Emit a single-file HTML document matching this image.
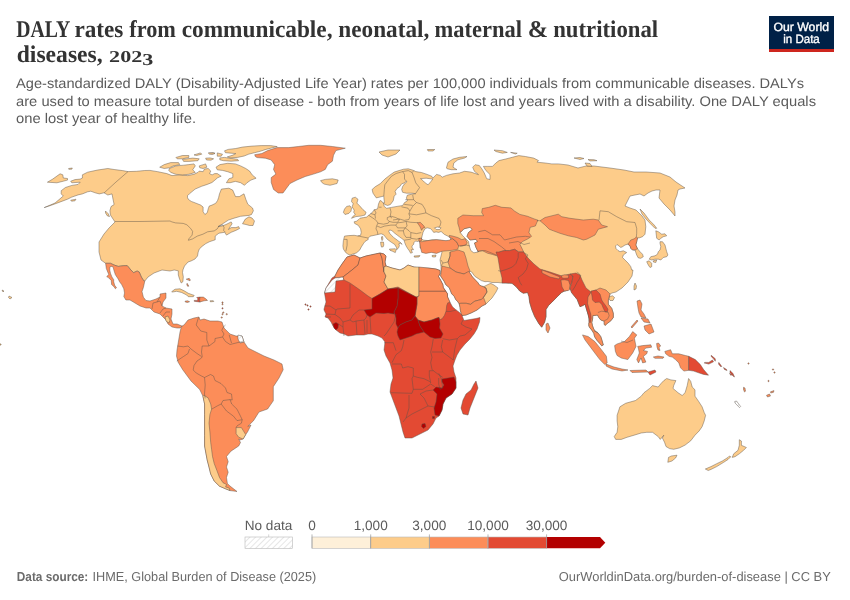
<!DOCTYPE html>
<html><head><meta charset="utf-8"><title>DALY rates map</title>
<style>
html,body{margin:0;padding:0;background:#fff;}
body{width:850px;height:600px;overflow:hidden;position:relative;}
svg{display:block;}
text{text-rendering:geometricPrecision;}
</style></head>
<body>
<svg width="850" height="600" viewBox="0 0 850 600" style="will-change:transform">
<defs>
<pattern id="hatch" patternUnits="userSpaceOnUse" width="4" height="4" patternTransform="rotate(45)">
<rect width="4" height="4" fill="#fff"/>
<line x1="0" y1="0" x2="0" y2="4" stroke="#d5d5d5" stroke-width="1.2"/>
</pattern>
</defs>
<rect width="850" height="600" fill="#fff"/>
<g font-family="'Liberation Serif', serif" font-weight="bold" fill="#333" font-size="24" lengthAdjust="spacingAndGlyphs">
<text x="16.2" y="36.8" textLength="54.1" lengthAdjust="spacingAndGlyphs">DALY</text>
<text x="74.4" y="36.8" textLength="49.0" lengthAdjust="spacingAndGlyphs">rates</text>
<text x="129.3" y="36.8" textLength="46.6" lengthAdjust="spacingAndGlyphs">from</text>
<text x="181.7" y="36.8" textLength="150.8" lengthAdjust="spacingAndGlyphs">communicable,</text>
<text x="338.3" y="36.8" textLength="91.1" lengthAdjust="spacingAndGlyphs">neonatal,</text>
<text x="434.6" y="36.8" textLength="87.5" lengthAdjust="spacingAndGlyphs">maternal</text>
<text x="527.7" y="36.8" textLength="20.4" lengthAdjust="spacingAndGlyphs">&amp;</text>
<text x="553.2" y="36.8" textLength="105.0" lengthAdjust="spacingAndGlyphs">nutritional</text>
<text x="16.7" y="61.9" textLength="86" lengthAdjust="spacingAndGlyphs">diseases,</text>
<text x="109.1" y="62" font-size="16.6" textLength="44.2" lengthAdjust="spacingAndGlyphs">202<tspan dy="3.2">3</tspan></text>
</g>
<g font-family="'Liberation Sans', sans-serif" font-size="14" fill="#5b5b5b">
<text x="16" y="88" textLength="788" lengthAdjust="spacingAndGlyphs">Age-standardized DALY (Disability-Adjusted Life Year) rates per 100,000 individuals from communicable diseases. DALYs</text>
<text x="16" y="105.8" textLength="800" lengthAdjust="spacingAndGlyphs">are used to measure total burden of disease - both from years of life lost and years lived with a disability. One DALY equals</text>
<text x="16" y="123.4" textLength="180" lengthAdjust="spacingAndGlyphs">one lost year of healthy life.</text>
</g>
<g>
<rect x="769" y="16" width="65" height="36" fill="#002147"/>
<rect x="769" y="49" width="65" height="3" fill="#ce261e"/>
<text x="773.5" y="30.8" textLength="55.5" lengthAdjust="spacingAndGlyphs" font-family="'Liberation Sans', sans-serif" font-size="12" fill="#fff" stroke="#fff" stroke-width="0.35">Our World</text>
<text x="783.2" y="42.5" textLength="36.6" lengthAdjust="spacingAndGlyphs" font-family="'Liberation Sans', sans-serif" font-size="12" fill="#fff" stroke="#fff" stroke-width="0.35">in Data</text>
</g>
<g stroke="#5a5048" stroke-width="0.45" stroke-linejoin="round">
<polygon points="44.2,207.6 55,203 63.3,196 61.2,193.9 61.2,190.7 65.4,187.5 71.8,185.4 78.1,184.4 80.2,182.2 71.8,182.8 70.7,181.2 75,179.6 80.2,179.1 82.4,178 82.4,174.8 87.6,172.2 97.2,170.1 107.8,168.5 114.1,169.5 122.6,170.6 128,171.6 136.5,171.3 144.7,170.5 150,170.4 157.8,171.7 166.8,173.6 172,175.6 179.8,174.9 187.5,175.6 194,174.3 197.9,172.4 199.2,171.1 203.1,171.7 204.4,169.1 208.2,168.5 210.8,171.1 209.5,173.6 212.1,174.9 214.7,173.6 217.3,173.6 221.2,176.2 217.6,177.8 214.8,180.2 212,182.5 207.3,184.4 201.6,186.3 195.1,189.1 189.4,193.8 187.5,195.7 187.5,197.6 188.5,199.5 191.3,201.4 196,203.2 200.7,205.1 203.1,207 203.1,211.7 204.9,214.5 207.3,212.6 208.2,208.9 209.2,206.1 212,205.1 215.8,203.2 217.6,200.4 218.6,197.6 219.5,193.8 221.4,189.1 228.9,188.2 232.7,190.1 235.5,196.6 239.3,196.6 244,193.8 245.9,199.5 247.8,204.2 252.5,208 253.4,210.8 251.5,214.5 249,215.4 240.6,216.3 234,218.2 228.4,220.1 222.7,223.8 218,226.6 222,226 226,224.5 231.2,221.9 232.1,223.8 230.2,226.6 228.4,229.5 231.2,227.6 235.9,227.6 238.7,226.6 239.6,228.5 235.9,230.4 231.2,232.3 226.5,235.1 224.6,232.3 218.9,233.2 215.2,236.1 215.2,239.8 209.5,241.7 205.8,243.6 202,246.4 199.2,249.2 198.2,252.1 197.5,256 195,259 191,261 188,262 184.5,266 182.9,270 182.5,272.5 183.3,276.7 182.9,281.7 181.2,283 179.6,279.2 178.3,275 178.3,270.8 174.2,270 170,271 162,270 154,273 148,277 144.8,281.1 143.4,280.4 141.3,276.9 139.2,272 137.1,271 133.6,272.7 130.8,269.9 127.3,265.7 123.8,265.7 118.2,266.4 114,265 110.5,263.3 105.6,263.3 101,260 99,252 99,242 104,234 109,228 113,224 115,222 110.4,215 109.9,210.8 111,206.6 114.1,204.5 113,199.2 112,193.9 107.8,195 104,192.8 99.3,193.9 95.1,192.8 90.8,191.2 87.6,191.8 82.4,193.9 78.1,194.9 71.8,197.1 67.5,199.2 59,202.4 50.6,205.5" fill="#fdcc8a"/>
<polygon points="47.4,182.2 52.7,179.1 60.1,173.8 62.8,174.8 63.3,178 67.5,178.5 67.5,180.1 63.3,181.2 56.9,182.8" fill="#fdcc8a"/>
<polygon points="68.6,168.5 72.3,168 71.8,169.2 68.8,169.3" fill="#fdcc8a"/>
<polygon points="70.7,200.2 76,199.2 75,200.8 71.5,201.2" fill="#fdcc8a"/>
<polygon points="105.5,211 108,213.5 109.5,216.5 107.5,216 105.5,213" fill="#fdcc8a"/>
<polygon points="216,167.2 219.9,164.6 227.6,163.3 235.4,163.9 240.6,165.9 245.8,168.5 249.6,171.1 252.2,174.9 256.1,178.2 250.9,180.1 247.1,182.7 244.5,185.3 240.6,182.7 235.4,181.4 230.2,182.7 226.4,182.7 228.9,178.8 232.8,177.5 232.8,173.6 227.6,171.7 222.5,170.4 217.3,169.8" fill="#fdcc8a"/>
<polygon points="169.4,168.5 175.9,165.9 183.6,165.2 188.8,164.6 194,163.9 195.3,165.9 192.7,169.8 195.3,172.4 188.8,174.3 182.4,174.9 175.9,174.3 170.7,172.4 168.8,170.4" fill="#fdcc8a"/>
<polygon points="159.7,167.2 164.2,164.6 170.7,162.6 178.5,162.6 179.8,164.6 173.3,165.9 169.4,167.8 164.2,168.5" fill="#fdcc8a"/>
<polygon points="199.2,165.9 205.6,163.9 206.9,167.2 203.1,168.5 199.8,167.8" fill="#fdcc8a"/>
<polygon points="219.8,157.9 224.5,157.4 231.1,158.4 237.6,159.3 238.6,160.7 231.1,161.2 223.5,160.7 219.8,159.8" fill="#fdcc8a"/>
<polygon points="205.6,158.2 210,157.9 213.6,158.8 211,160.2 206.5,160" fill="#fdcc8a"/>
<polygon points="209.4,153 213,152.7 215,153.6 211,154.1" fill="#fdcc8a"/>
<polygon points="224.5,150.8 228.2,149.4 235.8,148.5 242.4,147.1 251.8,146.1 261.2,145.6 270.6,145.6 277.2,146.6 271.5,148 265.9,149.4 260.2,151.3 254.6,152.7 248.9,154.1 244.2,156 237.6,157.4 230.1,157.9 227.3,156.9 232.9,155.1 235.8,153.6 231.1,153.2 225.4,152.7" fill="#fdcc8a"/>
<polygon points="175.9,157.5 182.4,155.5 188.8,155.5 188.8,157.5 182.4,158.8 177.2,158.8" fill="#fdcc8a"/>
<polygon points="182.4,159.4 192.7,158.1 199.2,158.8 197.9,160.7 188.8,161.4 183.6,161.4" fill="#fdcc8a"/>
<polygon points="194,154.9 200.5,152.9 201.8,154.2 196.6,155.5" fill="#fdcc8a"/>
<polygon points="208.2,152.9 214.7,152.9 213.4,154.2 209.5,154.2" fill="#fdcc8a"/>
<polygon points="217.3,152.9 222.5,154.2 221.2,156.2 217.3,156.2" fill="#fdcc8a"/>
<polygon points="242.5,223.8 245.3,219.1 249,216.8 252,218 254.5,221 253,225.5 249.5,225.5 246,224.5" fill="#fdcc8a"/>
<polygon points="254.7,154.7 261.8,153.5 267.6,150.6 277,147.6 288.8,147.6 298.2,146.5 308.8,145.3 320.6,145.3 332.4,146.5 345.3,148.2 335.9,150.6 333.5,155.3 332.4,161.2 327.6,164.7 325.3,169.4 320.6,171.8 313.5,174.1 305.3,176.5 297,180 290,183.5 286.5,188.2 283,193 278.2,193 273.5,189.4 271.2,182.4 271.2,177.6 275.9,174.1 273.5,169.4 274.7,164.7 271.2,160 265.3,158.2 257,157.6 255.3,156.5" fill="#fc8d59"/>
<polygon points="320.6,180.6 325.3,179.4 332.4,178.8 338.2,180 337,183.5 330,185.3 324.1,184.1 321.8,182.4" fill="#fdcc8a"/>
<polygon points="105.6,263.3 110.5,263.3 114,265 118.2,266.4 123.8,265.7 127.3,265.7 130.8,269.9 133.6,272.7 137.1,271 139.2,272 141.3,276.9 143.4,280.4 144.8,281.1 143.4,287.4 142,291.6 143.4,297.2 146,300.5 150,301 156,299 160,297 160,294 166,293 166,298 163,302 162,306 166,308 172,309 172,314 171,319 173,324 177,324 182,326 180,328 177,328 172,327 168,324 166,320 160,314 154,312 150,308 146,308 140,306 130,300 125.9,300 123.8,296.5 124.5,293 123.8,288.8 121.7,284.6 119.6,281.8 118.2,279 115.4,274.8 114,270.6 113,266.8 111.2,266.4 109.8,267.1 109.8,270.3 110.5,273.4 111.9,276.9 113.7,279.7 113.7,281.8 114.7,285.3 116.5,287.8 115.4,288.8 114,286.7 111.6,284.6 111.2,280.4 108.4,277.6 106.7,276.6 108.8,274.5 107.7,272 106.3,268.5" fill="#fc8d59"/>
<polygon points="165,317 168,316 170,320 169,323 166,321" fill="#fdcc8a"/>
<polygon points="171.7,291.7 175,289.2 180,288.8 184.2,290.8 188.3,293.3 194.2,295.4 193.3,296.7 188.3,296.7 186.7,295 181.7,292.5 176.7,291.3 172.5,292" fill="#fdcc8a"/>
<polygon points="196.7,297.5 200,297.1 199.6,300 200,302.1 197.5,301.7 194.2,301.3 194.2,300.4 197.5,300.4 197.9,298.8" fill="#e34a33"/>
<polygon points="200,297.1 203.3,297.1 205.8,298.8 207.5,300.4 204.2,300.8 200.8,301.7 200,302.1 199.6,300" fill="#fc8d59"/>
<polygon points="185,301.2 187.5,300.8 189.6,301.7 187.5,302.5 185.4,302.1" fill="#fc8d59"/>
<polygon points="210,300.8 213.3,300.7 213.8,301.5 210.4,301.8" fill="#fdcc8a"/>
<polygon points="186.2,279.2 189.2,278.3 190.4,280 190,280.8 187.1,279.6" fill="#fc8d59"/>
<polygon points="187.1,283.3 187.9,284.6 188.8,286.2 187.5,286.2 186.8,284.6" fill="#fc8d59"/>
<polygon points="182,326 184,325 188,320 194,318 199,317 200,320 204,319 210,321 218,321 222,322 224,328 230,334 236,336 242,336 244,342 248,348 256,352 264,356 274,360 282,364 283.2,369.7 279,378 273.3,386.7 273.3,400.8 267.6,409 259,412 253.5,420.7 247.8,426.3 251,425 247.5,432 245.7,434.6 243.1,439 240.5,439.9 238.7,439 240.5,442.5 238.7,446 230.9,451.2 226.5,456.5 228.2,461.7 226.5,467 228.2,472.2 226.5,477.5 227.4,483.6 230,486 237,491.5 230,490.6 225.6,488.8 219.5,486.2 214.2,481 210.7,474 209,467 207.2,460 204.6,446 204.6,435.5 204.6,425 204.6,414.5 204.6,404 202.9,396.1 199.7,389.5 191,381 182.7,369.7 178,362 176.5,356 177,350 178,344 179,338 180,332 181,328" fill="#fc8d59"/>
<polygon points="202.9,396.1 204.6,404 204.6,414.5 204.6,425 204.6,435.5 204.6,446 207.2,460 209,467 210.7,474 214.2,481 219.5,486.2 225.6,488.8 230,490.6 229.1,488 225.6,487 226.5,484.5 223,482.7 219.5,477.5 216.9,470.5 214.2,463.5 212.5,456.5 211.6,449.5 210.7,442.5 209.9,432 209,423.2 209.9,414.5 211.6,409.2 210.7,404 208.1,397.9 203.7,395.2" fill="#fdcc8a"/>
<polygon points="236.1,427.6 241.4,427.6 245.7,434.6 243.1,439 238.7,437.2 236.1,433.7" fill="#fdcc8a"/>
<polygon points="238,335 242,336 244,342 240,343 238,339" fill="url(#hatch)"/>
<polygon points="349.9,255.1 347.7,254 345.6,252.4 343.4,249.1 342.9,245.9 343.4,240.5 344.5,236.1 348.8,235.6 354.2,235.3 357.6,235.9 360.6,235.3 361.2,232.4 360.6,228.8 358.2,225.3 354.7,223.5 354.1,221.8 356.5,221.2 358.8,219.4 360,218.2 363.5,217.6 366.5,217.1 368.8,215.3 371.8,212.9 374.1,210 377.6,208.8 378.5,204 380,200.5 381.5,201 383,203 384.5,202.5 384,199 383.8,196.1 380,197 376.3,197.9 373,193.2 372.1,189.5 375.4,186.6 380.1,183.8 384.8,179.1 389.5,175.4 394.2,172.1 398.9,170.6 403.6,169.2 408.3,168.8 413,170.2 415.8,171.6 421.5,172.5 427.1,174.4 431.8,176.3 432.8,178.2 436.5,174.4 440.3,175.4 442.2,177.2 446.4,175.4 453,173.8 459.5,173 464.5,171.3 471,172.1 476,173.8 478.5,174.6 474.4,171.3 472.7,167.2 475.2,164.7 479.3,165.5 481.8,168.8 484.3,173 486.7,178.7 490,179.5 490,174.6 485.9,170.5 483.4,166.4 487.5,166.4 492.5,166.4 495.8,163 499,160.6 505.7,159 512.3,157.3 518.8,155.6 525.4,156.5 533.7,158.1 538.6,160.6 537,162.2 545.2,163 551.8,163.9 558.4,163.9 568,165 578,168 586,166 594,166 610,168 624,170 634,172 646,172 660,173 670,177 676,182 685,188 680,189 678,190 677,195 675,200 674,206 675,212 675,216 670,210 664,204 659,198 660,190 656,190 652,191 648,193 644,196 640,194 630,196 625,206 630,208 636,210 642,216 645,220 645.8,226.7 645,234.2 642.5,236.7 639.2,237.9 637.5,237.9 636.7,241.7 635.8,245 637.5,248.8 640,251.7 642.5,254.2 643.3,256.7 640.8,258.3 638.3,257.9 636.7,255 635.8,252.5 635,250 632.5,250 630.8,248.3 630,245.8 627.9,244.2 625,245 622.5,246.7 620.8,247.5 619,246 617,244.5 615.5,246 616,248.5 618,250.5 620,251.7 623.3,250.8 626.7,252.5 623.3,255 622.5,257.5 625,260 628.3,263.3 630.8,266.7 631.7,270 633,270 632,276 628,282 622,288 616,292 612,293 610,294 608.3,300 608.3,304.2 611.7,308.3 613.3,313.3 613.3,317.5 610.8,320.8 607.5,323.3 605,325.4 604.2,324.2 604.2,321.2 600.8,320 598.8,317.5 597.5,315 595,315.4 592.8,315.5 592.6,319 591.8,322.5 592.5,325.8 593.8,329.2 595.8,331.7 598.3,333.3 600.8,336.7 602.1,340.8 603.3,345 601.7,345.8 599.6,343.3 596.7,340 594.6,336.7 593.8,333.3 591.7,330 589.6,327.5 588.8,325.8 588.8,323.3 589.6,322.5 589.2,319.2 588.3,315 586.7,310 585,304.2 583,305.5 580,306.7 577.2,299.6 571.5,292.5 570,288 568,290 564.4,291.1 561.6,292.5 557.3,296.7 551.7,302.4 548.5,305.5 546,309.5 546,316.6 544.6,322.2 541.7,327.2 538.9,323.7 534.7,316.6 531.8,309.5 529.7,302.4 529,296.7 527.6,292.5 523.3,293.2 519.8,291.1 516.2,286.8 512,283.3 506,283 502,283 498,282.5 492,282.5 488,281.5 485,281.7 481.3,280.6 478,278.4 474.8,276.3 471.6,271.9 468.3,270.8 469.5,272.5 472.5,277 475.9,280.6 478,282.8 479.2,284.9 481.3,286 484,286.5 487,285 489.5,283.8 491,283.5 494,285 498,288 496,292 492,298 486,304 482,306 477,310 471,313 466,315 462,315.5 461.2,313.4 460.4,310.5 460,307.2 459.2,303.8 457.5,301.3 455.8,299.7 454.2,296.3 451.7,293.8 450.4,290.5 449.2,287.6 445.8,284.7 444.2,281.3 441.7,277.6 440.6,275.9 441,273 441,270 441,266 440,260 442,252 440,249 430,250 420,248 420,243.9 419.5,240.2 418,241.5 415.5,241 414,242.6 413.5,244.5 412.4,245.5 411.8,247 413.5,249.7 411.2,249.7 412.4,252.6 410.6,253.2 409.4,250.9 407.6,248.5 405.9,245.6 404.7,242.6 404.1,240.3 401.8,238.5 399.4,236.8 397.1,235 394.7,233.2 392.9,231.5 391.2,230.3 389.4,230 388.8,231.5 390,233.8 391.8,235.6 393.5,237.4 395.9,239.1 398.2,240.9 400.6,242.6 402.1,244.4 400.6,243.2 398.8,243.8 399.4,245.6 398.8,247.4 396.8,249.7 396.6,247.8 394.7,244.4 391.8,242.6 389.4,240.9 387.1,239.1 385.3,236.8 383.5,234.7 381.2,233.8 378.2,234.4 375.9,235 370,236.2 368.2,238.2 368.3,239.4 365,241.5 363.4,243.7 361.3,247 359.6,250.2 356.4,252.9 352.1,254.3" fill="#fdcc8a"/>
<polygon points="406.4,181 404.5,182.9 401.7,183.8 399.8,186.6 397,188.5 395.1,191.4 396.1,194.2 394.2,196.1 393.2,200.8 390.4,204.5 387.6,205.5 384.8,204.5 383.5,203 384.2,206.4 386.6,208.3 391.4,207.4 397,206.4 402.6,205.5 404.5,202.6 407.4,200.8 406.4,197.9 407.4,195.1 412.1,194.2 415.8,193.7 412.1,193.2 406.4,193.2 402.6,192.3 401.7,189.5 402.6,186.6 404.5,183.8 406.9,181.9" fill="#fff" stroke="#5a5048" stroke-width="0.45"/>
<polygon points="420.5,178.6 426.2,178.2 432.8,179.1 430.9,181.5 428.1,184.8 425.2,182.9 423.4,181" fill="#fff" stroke="#5a5048" stroke-width="0.45"/>
<polygon points="421.4,238.9 422.2,235.7 423,232.4 424.7,229.1 427.1,227.8 430.4,228.6 432.5,230.7 433.7,232.4 436.2,231.9 438.7,232.4 441.1,231.5 444.4,234.4 447.7,236.1 450.2,237.7 451,239.8 448.5,241 444.4,241 440.3,240.2 436.2,239.8 432.1,239.8 428,240.6 423.8,240.2" fill="#fff" stroke="#5a5048" stroke-width="0.45"/>
<polygon points="434.5,227.8 437.8,227 441.1,227.8 439.5,229.5 436.2,229.5" fill="#fff" stroke="#5a5048" stroke-width="0.45"/>
<polygon points="460.3,232.5 464,228.8 470,227.3 472.3,229.5 468.5,232.5 467,236.3 470,240 476,239.3 477.5,241.5 474.5,243 476,247.5 478.3,252 473.8,252.8 470.8,250.5 469.3,246 468.5,241.5 465.5,238.5 462.5,235.5" fill="#fff" stroke="#5a5048" stroke-width="0.45"/>
<polygon points="352.1,198.2 355.3,197.2 358,199.3 356.9,203.1 359.6,205.8 362.9,209.6 366.1,212.3 365,215 360.7,216.1 355.9,216.6 351.5,218.3 353.2,216.1 355.3,214.5 353.7,212.3 354.2,210.2 352.1,206.9 353.2,203.7 351.5,201.5" fill="#fdcc8a"/>
<polygon points="344.5,209.1 346.7,206.4 349.9,205.8 351.5,208 351,211.2 348.8,213.4 345,214.5 343.4,212.3" fill="#fdcc8a"/>
<polygon points="389.4,249.1 395.3,248.8 396.2,249.7 395.3,252.6 392.4,251.2 390,250.3" fill="#fdcc8a"/>
<polygon points="380.6,242.1 383.5,242.1 383.8,245 383.2,246.8 381.5,247.1 380.9,245" fill="#fdcc8a"/>
<polygon points="381.5,236.8 382.6,236.5 382.9,239.1 382.1,240.6 381.5,239.1" fill="#fdcc8a"/>
<polygon points="379,152 388,150 400,150 396,154 388,157 382,155" fill="#fdcc8a"/>
<polygon points="446.4,168 448,162.2 453,159 459.5,157.3 467,156.5 464.5,158.1 457.9,159.8 453.8,163 453,167.2 457,169.7 451.3,169.7 447.2,168.8" fill="#fdcc8a"/>
<polygon points="494,150 502.4,150.7 507.3,152.4 502.4,153.2 495.8,151.5" fill="#fdcc8a"/>
<polygon points="510.6,152.4 517.2,153.2 515.5,154" fill="#fdcc8a"/>
<polygon points="427.4,149.5 434.8,149.5 433,151 428,151" fill="#fdcc8a"/>
<polygon points="574,158 580,157.5 584,158.5 580,159.5" fill="#fdcc8a"/>
<polygon points="588,159.5 594,159.7 597,160.7 590,161" fill="#fdcc8a"/>
<polygon points="585,163 590,163.5 592,166.5 587,166" fill="#fdcc8a"/>
<polygon points="640,209 644,213 649.2,220 651.7,222.5 654.2,225 656.7,228.3 655,228.3 652.5,225.8 650,223.3 646,219 642,214" fill="#fdcc8a"/>
<polygon points="655.8,230.8 658.3,231.7 661.7,234.2 665,233.8 666.7,235.8 663.3,236.7 660.8,238.3 659.2,240 656.7,238.3 656.3,235" fill="#fdcc8a"/>
<polygon points="660,241.7 662.5,241.7 665,245 665.8,248.3 666.7,251.7 667.9,255 666.7,256.7 663.3,257.5 660.8,260 658.3,259.2 655,259.2 651.7,260 649.2,259.2 650.8,256.7 655,255.8 657.5,254.2 658.3,251.7 660,250 660.8,246.7 660,243.3" fill="#fdcc8a"/>
<polygon points="646.7,261.7 649.2,260.8 651.7,263.3 651.7,266.7 650,267.5 648.3,265" fill="#fdcc8a"/>
<polygon points="653.3,260.8 656.7,260 655.8,262.5 653.3,262" fill="#fdcc8a"/>
<polygon points="635,283 636.5,286 636,289 634,290 634,286" fill="#fdcc8a"/>
<polygon points="609.5,296.5 612.5,295.8 614.5,297.5 613,300.5 610,300.5 609,298.5" fill="#fdcc8a"/>
<polygon points="546,324 548,323 550,328 548,333 546,330" fill="#fc8d59"/>
<polygon points="417.4,222.8 420.2,222.3 423.1,225.1 425,227.5 423.1,227.9 421.6,230.3 420.2,227 418.4,224.2" fill="#fc8d59"/>
<polygon points="419.5,240.2 421.7,241.8 427,240.7 431.2,240.2 436.5,239.7 441.8,240.2 446,240.7 449.2,240.2 452.4,238.6 456.6,241.8 458.7,246 457.7,249.2 452.4,250.3 441.8,251.3 436.5,253.4 431.2,252.4 425.9,253.4 421.7,252.4 420.6,248.1 420,243.9" fill="#fc8d59"/>
<polygon points="418.8,238.5 421.5,238 421.7,240.5 419,241.5" fill="#fc8d59"/>
<polygon points="449.2,235.4 452.4,236 457.7,237.5 461.9,239.7 465.1,238.6 467.2,242.8 466,245 462,246 458.7,246 456.6,241.8 452.4,238.6 449.7,237.5" fill="#fc8d59"/>
<polygon points="457.8,218.3 462.9,215 473.3,215.7 483.6,215.7 481.7,212.5 482.3,208.6 488.8,207.3 495.3,205.3 501.7,207.3 510.8,207.9 514.7,211.2 519.9,214.4 527.6,216.3 534.1,218.9 538,220.2 536.7,222.8 535.4,226 530.2,227.3 528.9,232.5 531.5,236.4 527.6,239 522.4,241.6 519.9,244.2 522.4,249.3 523.7,252 518.6,252 514.7,249.3 509.5,250.6 504.3,250.6 499.2,252 496.6,255.8 492.7,254.5 487.5,253.2 482.3,250.6 478.5,251.3 478.3,252 476,247.5 474.5,243 477.5,241.5 476,239.3 470,240 467,236.3 468.5,232.5 472.3,229.5 470,227.3 464,228.8 460.3,232.5 459,227.3 457.8,223.5" fill="#fc8d59"/>
<polygon points="540,220.8 545,217.5 558.3,214.2 561.7,216.7 570,218.3 583.3,220 593.3,219.2 598.3,220 601.7,225 607.5,226.7 598.3,229.2 595,235 586.7,239.2 583.3,240 576.7,237.5 568.3,235.8 560,233.3 553.3,230.8 549.2,229.2 545,225" fill="#fc8d59"/>
<polygon points="627.9,244.2 630.8,240 634.2,238.8 636.3,237.1 637.5,237.9 636.7,241.7 635.8,245 637.5,248.8 635,250 632.5,250 630.8,248.3 630,245.8" fill="#fc8d59"/>
<polygon points="450,252 458,250 464,252 466,258 468,266 470,271 469,272 464,274 456,272 450,268 448,262 450,256" fill="#fc8d59"/>
<polygon points="441,273 442,266 450,268 456,272 464,274 468.3,271.5 469.5,272.5 472.5,277 475.9,280.6 478,282.8 479.2,284.9 481.3,286 484,287 486,288 487,292 483.5,297.4 481.3,299.5 474.8,301.2 470.5,304.4 466.2,303.3 460.8,303.3 459.2,303.8 457.5,301.3 455.8,299.7 454.2,296.3 451.7,293.8 450.4,290.5 449.2,287.6 445.8,284.7 444.2,281.3 441.7,277.6 440.6,275.9" fill="#fc8d59"/>
<polygon points="459.2,303.8 460.8,303.3 466.2,303.3 470.5,304.4 474.8,301.2 481.3,299.5 483.5,297.4 486,304 482,306 477,310 471,313 466,315 462,315.5 461.2,313.4 460.4,310.5 460,307.2" fill="#fc8d59"/>
<polygon points="496,252 499.2,252 504.3,250.6 509.5,250.6 514.7,249.3 518.6,252 523.7,252 528,258 534,264 540,269 550,272 562,276 570,274 573,276 572,282 570,286 568,290 564.4,291.1 561.6,292.5 557.3,296.7 551.7,302.4 548.5,305.5 546,309.5 546,316.6 544.6,322.2 541.7,327.2 538.9,323.7 534.7,316.6 531.8,309.5 529.7,302.4 529,296.7 527.6,292.5 523.3,293.2 519.8,291.1 516.2,286.8 512,283.3 506,283 502,283 502,278 500,270 498,258" fill="#e34a33"/>
<polygon points="542,270 550,273 560,277 559,279 550,277 542,273" fill="#fc8d59"/>
<polygon points="561.6,275.5 564.5,274.8 568.7,275.3 568.5,278 564,278.3 561.8,277.8" fill="#fc8d59"/>
<polygon points="560.9,280 564.5,279.7 568.5,280.5 570,285 569.5,290 568,290.5 564.4,291.1 562,287" fill="#fc8d59"/>
<polygon points="591,292 596,290 600,288 606,290 610,294 608.3,300 608.3,304.2 611.7,308.3 613.3,313.3 613.3,317.5 610.8,320.8 607.5,323.3 605,325.4 604.2,324.2 604.2,321.2 600.8,320 598.8,317.5 597.5,315 595,315.4 592.8,315.5 592.6,319 591.8,322.5 592.5,325.8 593.8,329.2 595.8,331.7 598.3,333.3 600.8,336.7 602.1,340.8 603.3,345 601.7,345.8 599.6,343.3 596.7,340 594.6,336.7 593.8,333.3 591.7,330 589.6,327.5 588.8,325.8 588.8,323.3 589,318 587,310 585.5,304 586,298 588,296" fill="#fc8d59"/>
<polygon points="570,274 576,273 580,275 582,280 586,288 591,292 588,297 587.5,303.3 589.2,309.2 590.8,314.2 591.2,318.3 590.4,322.5 589.6,322.5 589.2,319.2 588.3,315 586.7,310 585,304.2 583,305.5 580,306.7 577.2,299.6 571.5,292.5 570,288 572,282 573,276" fill="#e34a33"/>
<polygon points="591,291 596,290 600,294 601.7,300 603.3,302.5 605.8,305.8 607.9,309.2 607.5,311.7 605,311.7 603.3,308.3 601.7,304.2 599.2,302.1 595,302.5 592.5,300 592,296" fill="#e34a33"/>
<polygon points="582.5,334.9 588.2,336.5 594.8,341.5 601.4,349.7 606.4,356.3 607.2,362.9 604.7,364.5 599.8,359.6 594.8,353 589.9,346.4 584.9,339.8" fill="#fc8d59"/>
<polygon points="614.6,345.6 617.1,343.9 624.5,341.5 629.4,336.5 632.7,331.6 636.8,334.9 634.4,338.2 636,346.4 632.7,353 627.8,359.6 621.2,358 617.1,355.5 615.4,351.4" fill="#fc8d59"/>
<polygon points="637.7,346.4 642.6,345.6 650.8,344.8 651.7,347.2 645.9,348.1 643.4,350.5 647.5,351.4 646.7,353.8 643.4,356.3 645.9,362.1 642.6,362.9 641,358 638.5,362.9 636.8,359.6 639.3,353 638.5,348.9" fill="#fc8d59"/>
<polygon points="637,301 640,300 642,304 641,310 644,314 646,318 641,317 639,313 638,308" fill="#fc8d59"/>
<polygon points="644,326 651,324 654,332 649,334 645,330" fill="#fc8d59"/>
<polygon points="641,318 648,319 650,323 644,322" fill="#fc8d59"/>
<polygon points="631,327 637,320 638,321 632,328" fill="#fc8d59"/>
<polygon points="606,364 614,367 622,369 628,370 622,371 612,369 606,366" fill="#fc8d59"/>
<polygon points="630,370.5 646,370 648,372 632,372.5" fill="#fc8d59"/>
<polygon points="648,372 655,370 656,372 650,375" fill="#e34a33"/>
<polygon points="664.8,351.4 670.6,349.7 672.3,353.8 678.8,353.8 685.4,355.5 688.7,356.3 688.7,370.3 683.8,371.1 680.5,367.8 678.8,362.9 675.5,359.6 672.3,357.1 669,356.3 665.7,353.8" fill="#fc8d59"/>
<polygon points="688.7,356.3 695.3,359.6 700.3,364.5 703.6,369.5 708.5,375.2 703.6,374.4 698.6,372.8 693.7,371.1 688.7,370.3" fill="#e34a33"/>
<polygon points="704.1,362.9 708.8,364.1 713.5,361.8 712.4,360 708.8,362.4 705.3,362.4" fill="#e34a33"/>
<polygon points="711.2,355.3 715.3,358.8 715.3,361.2 713.5,358.8 711.2,356.5" fill="#e34a33"/>
<polygon points="718.8,362.4 720,364 721.8,366.5 720.5,366.5 718.5,364" fill="#e34a33"/>
<polygon points="723.5,367.6 726.5,369.4 727,370.5 724.5,369.5" fill="#e34a33"/>
<polygon points="730,370.6 733,373.5 734.5,377 733,376 730,372.5" fill="#e34a33"/>
<polygon points="729.5,373.5 732,374.5 731,375.5" fill="#e34a33"/>
<polygon points="743.5,387.3 745,388 745.5,391.2 744.5,392 743.5,389.5" fill="#fc8d59"/>
<polygon points="766.5,395.3 769.5,394 770.5,396 767.5,397" fill="#fc8d59"/>
<polygon points="770.5,391.8 774,390.6 773.5,392.3 770.8,393" fill="#fc8d59"/>
<polygon points="734.7,401.5 736.5,401 740.6,406.5 739.5,407.6 735,403" fill="url(#hatch)"/>
<polygon points="656.6,343.5 658.5,343 660.7,346 659,347.5 660,350.5 658,350 657,347" fill="#fc8d59"/>
<polygon points="653.3,357 658,356 664,357 663,358.3 655,358.3" fill="#fc8d59"/>
<polygon points="619.9,406.8 625.6,403.3 635.5,400.5 641.2,396.2 644,392.7 649.7,388.4 652.5,385.6 658.2,387 661,383.5 663.8,380.6 666.7,378.5 670.9,379.9 675.9,380.6 673.7,385.6 673,388.4 678,392.7 682.2,395.5 685.1,392.7 687.2,385.6 688.6,378.5 690.7,381.3 692.2,387 695,389.8 695,396.2 698.5,401.2 702.1,406.8 704.2,412.5 705.6,415.3 704.2,421 702.1,426.7 699.2,430.9 695,435.2 690.7,440.8 685.1,445.1 679.4,447.9 673.7,449.3 669.5,448.6 666,446.5 664.5,442.2 662.4,438 663.8,435.2 660.3,439.4 658.2,436.6 652.5,432.3 646.8,432.3 641.2,433 634.1,435.2 627,437.3 621.3,439.4 615.7,439.4 614.2,436.6 617.1,432.3 617.8,426.7 617.1,421 617.1,415.3 618.5,411.1" fill="#fdcc8a"/>
<polygon points="667.8,462.3 668.5,457.4 671.3,456 677,455.2 675.6,458 672,461" fill="#fdcc8a"/>
<polygon points="705.3,469 711,466.6 716.7,463.7 722.3,461 728,457.4 729.4,456 730.8,456.7 728,459.5 723.7,462.3 716.7,466.6 711,469.4 708.2,470.5" fill="#fdcc8a"/>
<polygon points="732.2,457.4 733.7,453.8 738,450.3 739.3,445.3 739.3,439.7 741.4,441 741.4,445.3 746.4,447.5 743.6,450.3 739.3,453.8 735,456.7" fill="#fdcc8a"/>
<polygon points="2,290 4,291 3,292" fill="#fdcc8a"/>
<polygon points="9,296 12,297.5 10,299 8.5,297.5" fill="#fdcc8a"/>
<polygon points="347,257 354,255 360,258 366,256 380,253 384,254 386,256 385,262 386,266 392,268 400,270 404,268 408,265 414,267 420,268 428,268 436,269 440,270.5 440,273.5 438.5,276.5 440.8,280.5 442.9,284.7 443.3,287.6 445.8,290.9 447.5,293.8 447.5,296.8 449.2,300.5 450.4,303 452.5,306.8 455.8,309.7 459.2,312.2 461.7,314.7 463,318 464,320.5 470,319.5 476,318.5 480,317.5 479.5,322 477,329 474,334 470,339 465,344 460,350 457,355 455,360 453,366 454,372 456,378 456,388 452,394 446,398 443,404 442,410 439,416 436,418 433,424 428,430 420,434 412,438 405,438 403,432 401,424 399,416 396,408 393,400 390,392 391,384 393,378 392,370 390,363 386,356 384,350 385,342 382,338 378,336 372,334 368,334 364,335 356,335 348,336 344,334 340,333 336,330 333,326 331,322 328,318 325,317 326,314 324,310 324,309 326,302 325,296 324.5,293 326,288 332,278 335,276 338,270 342,264" fill="#e34a33"/>
<polygon points="476,381 478,388 474,398 470,408 468,415 463,414 461,408 463,400 466,394 471,390 474,384" fill="#e34a33"/>
<polygon points="347,257 354,255 360,258 358,265 352,270 343,277 335,278 335,276 338,270 342,264" fill="#fc8d59"/>
<polygon points="335,278 343,277 344,280 336,281 335,292 324.5,293 326,288 332,280" fill="url(#hatch)"/>
<polygon points="360,258 366,256 380,253 382,258 384,272 386,276 384,282 388,289 380,294 372,298.5 368,296 360,290 350,283 344,280 343,277 352,270 358,265" fill="#fc8d59"/>
<polygon points="380,253 384,254 386,256 385,262 386,266 384,267 384,272 382,258" fill="#fc8d59"/>
<polygon points="386,266 392,268 400,270 404,268 408,265 414,267 419,267 419,296 416,297 398,287 388,289 384,282 386,276 384,272 384,267" fill="#fdcc8a"/>
<polygon points="419,267 428,268 436,269 440,270.5 440,273.5 438.5,276.5 440.8,280.5 442.9,284.7 443.3,287.6 445.6,291.3 419,291.3" fill="#fc8d59"/>
<polygon points="419,291.3 445.6,291.3 447.5,293.8 447.5,296.8 449.2,300.5 450,302.6 447.8,302.8 446.7,305.5 446.1,310.9 444.5,315.3 442.3,318.5 439.5,320 439,317.5 437,318 432,320 424,322 418,320 415,316 416,310 417,304 417,297 419,296" fill="#fc8d59"/>
<polygon points="398,288 416,297 417,297 417,304 416,310 415,316 412,320 406,322 400,325 398,328 396,324 396,318 394,312 397,306 398,298" fill="#b30000"/>
<polygon points="388,289 398,288 398,298 397,306 394,312 394,314 388,313 384,313.5 376,313 370,317 367,315 364,310 372,309 372,298.5 380,294" fill="#b30000"/>
<polygon points="398,328 400,325 406,322 412,320 415,316 418,320 420,326 424,332 416,334 412,336 406,338 400,340 398,336 397,332" fill="#b30000"/>
<polygon points="420,326 418,320 424,322 432,320 437,318 439,317.5 439.5,320 440,324 439.5,328 443,334 441,338 435,338.5 430,337 424,332" fill="#b30000"/>
<polygon points="333,324 336,322.5 338.5,324 338,328 336,330 334,328" fill="#b30000"/>
<polygon points="442,379 454,377 456,382 456,388 452,394 446,398 443,404 442,410 439,416 435,415 434,408 436,402 437,394 433,390 436,387 442,388 444,385 442,382" fill="#b30000"/>
<polygon points="422,424 425,423.5 426,426.5 423.5,428.5 421.5,426.5" fill="#b30000"/>
<polygon points="432.5,416.5 434.5,416.5 434.5,418.5 432.5,418.5" fill="#b30000"/>
<polygon points="432,255.5 436,255 435.5,257 432.5,257" fill="#fdcc8a"/>
<polygon points="414,256 420,255.6 419,257 414.5,257.2" fill="#fdcc8a"/>
<circle cx="222.5" cy="302.5" r="0.65" fill="#fc8d59"/>
<circle cx="222.5" cy="304.2" r="0.65" fill="#fc8d59"/>
<circle cx="222.5" cy="308.3" r="0.65" fill="#e34a33"/>
<circle cx="223.3" cy="312.5" r="0.65" fill="#fc8d59"/>
<circle cx="226.7" cy="314.2" r="0.65" fill="#fc8d59"/>
<circle cx="222.5" cy="314.2" r="0.65" fill="#fc8d59"/>
<circle cx="221.7" cy="317.5" r="0.65" fill="#fc8d59"/>
<circle cx="305.5" cy="304.5" r="0.65" fill="#e34a33"/>
<circle cx="307.5" cy="305.5" r="0.65" fill="#e34a33"/>
<circle cx="310.5" cy="306.5" r="0.65" fill="#e34a33"/>
<circle cx="308.5" cy="309.5" r="0.65" fill="#e34a33"/>
<circle cx="748.5" cy="363.5" r="0.65" fill="#fc8d59"/>
<circle cx="773" cy="369.5" r="0.65" fill="#fc8d59"/>
<circle cx="774.5" cy="372.5" r="0.65" fill="#fc8d59"/>
<circle cx="768.5" cy="381" r="0.65" fill="#fc8d59"/>
<circle cx="0.5" cy="344.5" r="0.65" fill="#fdcc8a"/>
</g>
<g fill="none" stroke="#5a5048" stroke-width="0.45" stroke-linejoin="round">
<polyline points="128,171.6 116,182 104,193"/>
<polyline points="115,221.5 140,221.5 170,221 171.9,221.9 175.6,222.9 183.2,223.4 186.9,224.8 190.7,228.5 192.6,231.4 192.1,235.1 188.8,238.9 188.4,240.3 192.6,238.9 197.3,236.1 202.9,234.2 207.6,231.8 214.2,230.9 217.1,229 218.9,226.2 222.7,224.8 224.1,227.6 223.6,230.4 225.5,232.3"/>
<polyline points="160,297 157,302 153,303 152,309"/>
<polyline points="157,302 160,301 162,306"/>
<polyline points="160,313 163,309 166,308"/>
<polyline points="163,316 166,312 170,312"/>
<polyline points="198.5,317.5 196.2,325 200.8,331 206.8,332.5 206.8,340 209,346"/>
<polyline points="209,346 215,341.5 215,338.5 222.5,337 224,334 221.8,330.3 223.2,327.3 225.5,325"/>
<polyline points="222.5,337 225.5,341.5 230,344.5 236,343 240,342 243.5,342"/>
<polyline points="229.2,334.8 231.5,343"/>
<polyline points="209,346 202.2,346 201.5,352 202.2,356.5 201.5,358"/>
<polyline points="201.5,356.5 197,353.5 191,349 188,346 183.5,346.8 177.5,346"/>
<polyline points="189.5,349 188,353.5 183.5,356.5 179,359.5 176.8,361"/>
<polyline points="201.5,358 197,361 194,365.5 193.2,370 196.2,373 201.5,376 204.5,377.5"/>
<polyline points="204.5,377.5 205.2,385 204.5,394 205.2,398.5"/>
<polyline points="204.5,377.5 210.5,374.5 213.5,376 215,380.5 221,383.5 225.5,388 227,392.5 231.5,394 232.2,400 230,399.6"/>
<polyline points="223,400.5 230,399.6 231.7,404 237,409.2 240.5,416.2 242.2,419.7 237,420.6 233.5,416.2 226.5,411 221.2,404 223,400.5"/>
<polyline points="211.6,409.2 217.7,405.7 221.2,404"/>
<polyline points="242.2,419.7 241.4,423.2 237,425.9 236.1,427.6"/>
<polyline points="368.5,215.2 372.2,217.6 375,219.5 377,221.4 377.9,223.2 376.5,226.1 376,228.9 377.4,231.7 377.9,234.5"/>
<polyline points="370.4,213.4 375,214.8 375.5,218.5"/>
<polyline points="374.1,209.1 376,212.9 375,214.8"/>
<polyline points="378.8,207.2 381.6,207.2"/>
<polyline points="390.1,208.2 391,211.9 390.1,216.6 392,218.1"/>
<polyline points="387.3,217.6 391,216.2 395.8,217.6 399.5,219.5 397.6,222.3 392.9,222.3 389.2,221.4 387.3,219.5 387.3,217.6"/>
<polyline points="389.2,221.4 388.2,223.2 383.5,224.2 377.9,223.2"/>
<polyline points="377,226.1 380.7,227.5 384.5,226.1 391,225.1 395.8,225.1 397.6,222.8"/>
<polyline points="393,220 399.5,219 404.2,220.4 408.9,219.5 409.9,216.6 408.9,213.8 409.9,211 408,208.2 401.4,206.8"/>
<polyline points="397.6,222.8 402.4,222.3 406.1,221.4 407.1,226.1 405.2,227.9"/>
<polyline points="406.1,221.4 410.8,222.3 418,222.7"/>
<polyline points="408.9,213.8 416.5,214.8 425.9,212.9 425,209.1 422.1,204.4 416.5,202.5"/>
<polyline points="425.9,212.9 431.5,215.7 439.1,218.5 441,222 440,226 438.6,227"/>
<polyline points="409.9,211 412.7,206.3 416.5,202.5"/>
<polyline points="404.2,204.4 412.7,205.4"/>
<polyline points="405.2,199.7 413.6,199.7 416.5,202.5"/>
<polyline points="412.7,195 413.6,199.7"/>
<polyline points="405.2,227.9 409,230.8 410.8,232.6 416.5,233.6 421.2,232.6"/>
<polyline points="410.8,232.6 410.8,238.3 416.5,239.2 420.2,238.3"/>
<polyline points="404.2,240.2 410.8,239.2"/>
<polyline points="395.8,225.1 397.6,227.9 402.4,227.9 405.2,227.9"/>
<polyline points="397.6,230.8 403.3,230.8 404.2,234.5 406.1,237.4 410.8,237.4"/>
<polyline points="403.3,230.8 405.2,227.9"/>
<polyline points="357.6,235.9 362,236.8 368,238"/>
<polyline points="344.1,239.4 347.1,239.4 347.1,245.3 345.9,251.2"/>
<polyline points="402.6,171.6 396.1,173.5 391.4,176.3 387.6,181 384.8,184.8 384.3,189.5 383.8,196.1"/>
<polyline points="402.6,171.6 404.5,174.4 404.5,179.1 406.4,181"/>
<polyline points="402.6,171.6 408.3,170.6 412.1,172.5"/>
<polyline points="413.9,170.6 412.1,172.5 413.9,177.2 415.8,182.9 419.6,187.6 415.8,193.2"/>
<polyline points="599,220 600,210.8 608.3,211.7 616.7,216.7 626.7,221.7 635,222.5 636.7,228.3 636.7,233.3 636.3,237.1"/>
<polyline points="537,220.5 540,220.8"/>
<polyline points="518.2,252.9 518.2,257.6 515.9,263.5 512.4,267 506.5,269.4 500.6,271.2 498.2,270.6"/>
<polyline points="524.1,252.9 528,255 525.3,258.8 528.2,263.5 526.5,269.4 522.9,274.1 518.2,277.6 520,282.4 521.8,285.3"/>
<polyline points="577.1,271.8 580.6,275.3 579.4,278.8 577.1,282.4 574.7,287.1 572.4,290.6"/>
<polyline points="441,266 443,263 448,262 450,256 450,252"/>
<polyline points="441,260 443,263"/>
<polyline points="483.5,297.4 487,292 486,288 484,287"/>
<polyline points="460,246 466,245 470,246"/>
<polyline points="350,284 350,308 337,309 336,310 330,306 324.5,306"/>
<polyline points="326,314 335,314.5 336,310"/>
<polyline points="326,317 331,317"/>
<polyline points="335,314.5 340,318 343,322 343,327 344,336"/>
<polyline points="338.5,324 343,327"/>
<polyline points="343,322 350,320 353,315 359,310 364,310"/>
<polyline points="350,320 353,322 356,321 364,320 366,318 367,315"/>
<polyline points="356,321 357,335"/>
<polyline points="364,320 365,334"/>
<polyline points="367,320 367,333"/>
<polyline points="370,317 371,333"/>
<polyline points="396,314 394,322 390,328 386,334 384,336"/>
<polyline points="404,340 402.7,346.7 401.3,350.7 396,354.7 393.3,360 392,362.7"/>
<polyline points="393.3,342.7 396,350.7"/>
<polyline points="384,342.7 393.3,342.7"/>
<polyline points="392,364 401.3,364 402.7,368 408,366.7 413.3,368 413.3,376 417.3,377.3 424,378.7 429.3,381.3 430.7,382.7 429.3,376 429.3,370.7 433.3,370.7"/>
<polyline points="433.3,338.7 432,346.7 430.7,352 432,357.3 430.7,362.7 432,369.3 433.3,370.7"/>
<polyline points="442.7,340 441.3,346.7 442.7,352 453.3,360"/>
<polyline points="432,352 442.7,352"/>
<polyline points="442.7,338.7 449.3,340 457.3,338.7 454.7,349.3 453.3,360"/>
<polyline points="463,320 461,324 466,327 472,329 465,335 460,336 457.3,338.7"/>
<polyline points="446,311.3 450,311.5 456.3,310.1"/>
<polyline points="433.3,370.7 438.7,374.7 442.7,377.3"/>
<polyline points="438.7,373.3 441.3,378.7 442.7,388 440,389.3 438.7,384 438.7,378"/>
<polyline points="413.3,376 412,378.7 413.3,389.3 422.7,389.3 430.7,384 434.7,386.7"/>
<polyline points="390.7,392.7 412,393.3 413.3,389.3"/>
<polyline points="409,395 409,408 406,418 403,422"/>
<polyline points="406,418 412,414 420,410 428,406 435,407"/>
<polyline points="428,406 424,398 420,394 426,391 433,390"/>
<polyline points="478.3,231.8 485,230.3 492.5,234.8 500,234.8 504.5,240 510.5,238.5 516.5,237 525.5,236.3 530,237"/>
<polyline points="479,238.5 488,238.5 494,241.5 501.5,246.8 506,250.5"/>
<polyline points="509,243 518,241.5 524,244.5 530,243"/>
<polyline points="477.5,251.3 485,250.5 491,252.8 496.3,255"/>
<polyline points="597.9,312.5 601.7,311.2 605,311.7 608.3,312.5 609.2,315.8 607.5,319.2 604.2,320.8"/>
<polyline points="593.8,330.8 597.9,332.5"/>
<polyline points="621,341 627,342.5 633,340"/>
</g>
<g font-family="'Liberation Sans', sans-serif" font-size="13.6" fill="#5b5b5b">
<text x="268.5" y="530.2" text-anchor="middle">No data</text>
<text x="312" y="530.2" text-anchor="middle">0</text>
<text x="370.7" y="530.2" text-anchor="middle">1,000</text>
<text x="429.3" y="530.2" text-anchor="middle">3,000</text>
<text x="488" y="530.2" text-anchor="middle">10,000</text>
<text x="546.6" y="530.2" text-anchor="middle">30,000</text>
</g>
<rect x="245" y="537" width="47.5" height="11.5" fill="url(#hatch)" stroke="#b8b8b8" stroke-width="0.6"/>
<line x1="268.7" y1="534.4" x2="268.7" y2="537" stroke="#b8b8b8" stroke-width="0.6"/>
<g stroke="#b8b8b8" stroke-width="0.6">
<rect x="312" y="537" width="58.7" height="11.3" fill="#fef0d9"/>
<rect x="370.7" y="537" width="58.7" height="11.3" fill="#fdcc8a"/>
<rect x="429.4" y="537" width="58.6" height="11.3" fill="#fc8d59"/>
<rect x="488" y="537" width="58.6" height="11.3" fill="#e34a33"/>
</g>
<polygon points="546.6,537 600,537 605.3,542.65 600,548.3 546.6,548.3" fill="#b30000"/>
<g stroke="#999" stroke-width="0.7">
<line x1="312" y1="534.4" x2="312" y2="548.3"/>
<line x1="370.7" y1="534.4" x2="370.7" y2="548.3"/>
<line x1="429.4" y1="534.4" x2="429.4" y2="548.3"/>
<line x1="488" y1="534.4" x2="488" y2="548.3"/>
<line x1="546.6" y1="534.4" x2="546.6" y2="548.3"/>
</g>
<g font-family="'Liberation Sans', sans-serif" font-size="13" fill="#6b6b6b">
<text x="16.8" y="580.8" font-weight="bold" textLength="71.5" lengthAdjust="spacingAndGlyphs">Data source:</text>
<text x="92.6" y="580.8" textLength="223.6" lengthAdjust="spacingAndGlyphs">IHME, Global Burden of Disease (2025)</text>
<text x="558.8" y="580.8" textLength="272" lengthAdjust="spacingAndGlyphs">OurWorldinData.org/burden-of-disease | CC BY</text>
</g>
</svg>
</body></html>
